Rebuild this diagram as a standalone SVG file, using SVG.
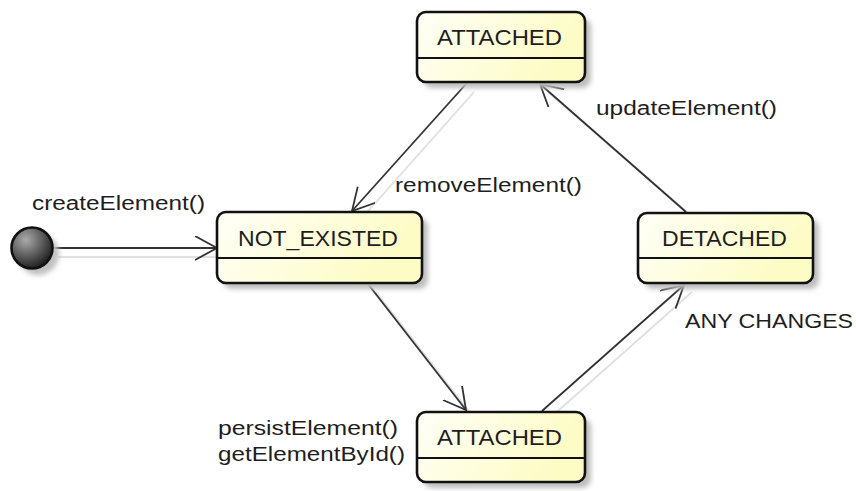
<svg xmlns="http://www.w3.org/2000/svg" width="856" height="491" viewBox="0 0 856 491">
<style>
.box{stroke:#111;stroke-width:2.6;fill:url(#yel)}
.div{stroke:#111;stroke-width:2}
.shd{fill:#bdbdbd;filter:url(#blur)}
.t{font-family:"Liberation Sans",Arial,sans-serif;font-size:20px;fill:#1e1e1e}
.n{font-size:22px}
.e{stroke:#333;stroke-width:1.8;fill:none}
.es{stroke:#e0e0e0;stroke-width:1.8;fill:none}
</style>
<defs>
<linearGradient id="yel" x1="0" y1="0" x2="1" y2="0.3">
<stop offset="0" stop-color="#fffff8"/>
<stop offset="1" stop-color="#fdfcc4"/>
</linearGradient>
<radialGradient id="dot" cx="0.35" cy="0.3" r="0.75">
<stop offset="0" stop-color="#aaaaaa"/>
<stop offset="1" stop-color="#1a1a1a"/>
</radialGradient>
<filter id="blur" x="-20%" y="-20%" width="140%" height="140%"><feGaussianBlur stdDeviation="2.5"/></filter>
<marker id="arr" markerWidth="26" markerHeight="28" refX="22" refY="12" orient="auto" markerUnits="userSpaceOnUse">
<path d="M0,0 L22,12 L0,24" fill="none" stroke="#333" stroke-width="1.8"/>
</marker>
</defs>

<g id="connectors">
<line class="es" x1="58" y1="257" x2="222" y2="257"/>
<line class="es" x1="474" y1="92" x2="362" y2="218"/>
<line class="es" x1="376" y1="292" x2="474" y2="418"/>
<line class="es" x1="550" y1="418" x2="692" y2="292"/>
<line class="es" x1="694" y1="218" x2="548" y2="92"/>
<line class="e" x1="53" y1="248" x2="217" y2="248" marker-end="url(#arr)"/>
<line class="e" x1="466" y1="84" x2="352" y2="211" marker-end="url(#arr)"/>
<line class="e" x1="368" y1="284" x2="466" y2="410" marker-end="url(#arr)"/>
<line class="e" x1="542" y1="411" x2="684" y2="285" marker-end="url(#arr)"/>
<line class="e" x1="686" y1="212" x2="540" y2="84" marker-end="url(#arr)"/>
</g>

<g id="start">
<circle cx="38" cy="254" r="21" fill="#c0c0c0" filter="url(#blur)"/>
<circle cx="32" cy="248" r="20.5" fill="url(#dot)" stroke="#111" stroke-width="2.6"/>
</g>

<g id="attached-top">
<rect class="shd" x="423" y="18" width="168" height="70" rx="9"/>
<rect class="box" x="417" y="12" width="168" height="70" rx="9"/>
<line class="div" x1="417" y1="58" x2="585" y2="58"/>
<text class="t n" x="437" y="45" textLength="125" lengthAdjust="spacingAndGlyphs">ATTACHED</text>
</g>

<g id="not-existed">
<rect class="shd" x="223" y="218" width="205" height="71" rx="9"/>
<rect class="box" x="217" y="212" width="205" height="71" rx="9"/>
<line class="div" x1="217" y1="258" x2="422" y2="258"/>
<text class="t n" x="238" y="246" textLength="160" lengthAdjust="spacingAndGlyphs">NOT_EXISTED</text>
</g>

<g id="detached">
<rect class="shd" x="644" y="219" width="175" height="70" rx="9"/>
<rect class="box" x="638" y="213" width="175" height="70" rx="9"/>
<line class="div" x1="638" y1="258" x2="813" y2="258"/>
<text class="t n" x="662" y="246" textLength="125" lengthAdjust="spacingAndGlyphs">DETACHED</text>
</g>

<g id="attached-bottom">
<rect class="shd" x="423" y="418" width="168" height="70" rx="9"/>
<rect class="box" x="417" y="412" width="168" height="70" rx="9"/>
<line class="div" x1="417" y1="458" x2="585" y2="458"/>
<text class="t n" x="437" y="445" textLength="125" lengthAdjust="spacingAndGlyphs">ATTACHED</text>
</g>

<g id="labels">
<text class="t" x="32" y="210" textLength="173" lengthAdjust="spacingAndGlyphs">createElement()</text>
<text class="t" x="395" y="192" textLength="187" lengthAdjust="spacingAndGlyphs">removeElement()</text>
<text class="t" x="596" y="115" textLength="181" lengthAdjust="spacingAndGlyphs">updateElement()</text>
<text class="t" x="218" y="435" textLength="180" lengthAdjust="spacingAndGlyphs">persistElement()</text>
<text class="t" x="218" y="461" textLength="187" lengthAdjust="spacingAndGlyphs">getElementById()</text>
<text class="t" x="685" y="328" textLength="168" lengthAdjust="spacingAndGlyphs">ANY CHANGES</text>
</g>
</svg>
